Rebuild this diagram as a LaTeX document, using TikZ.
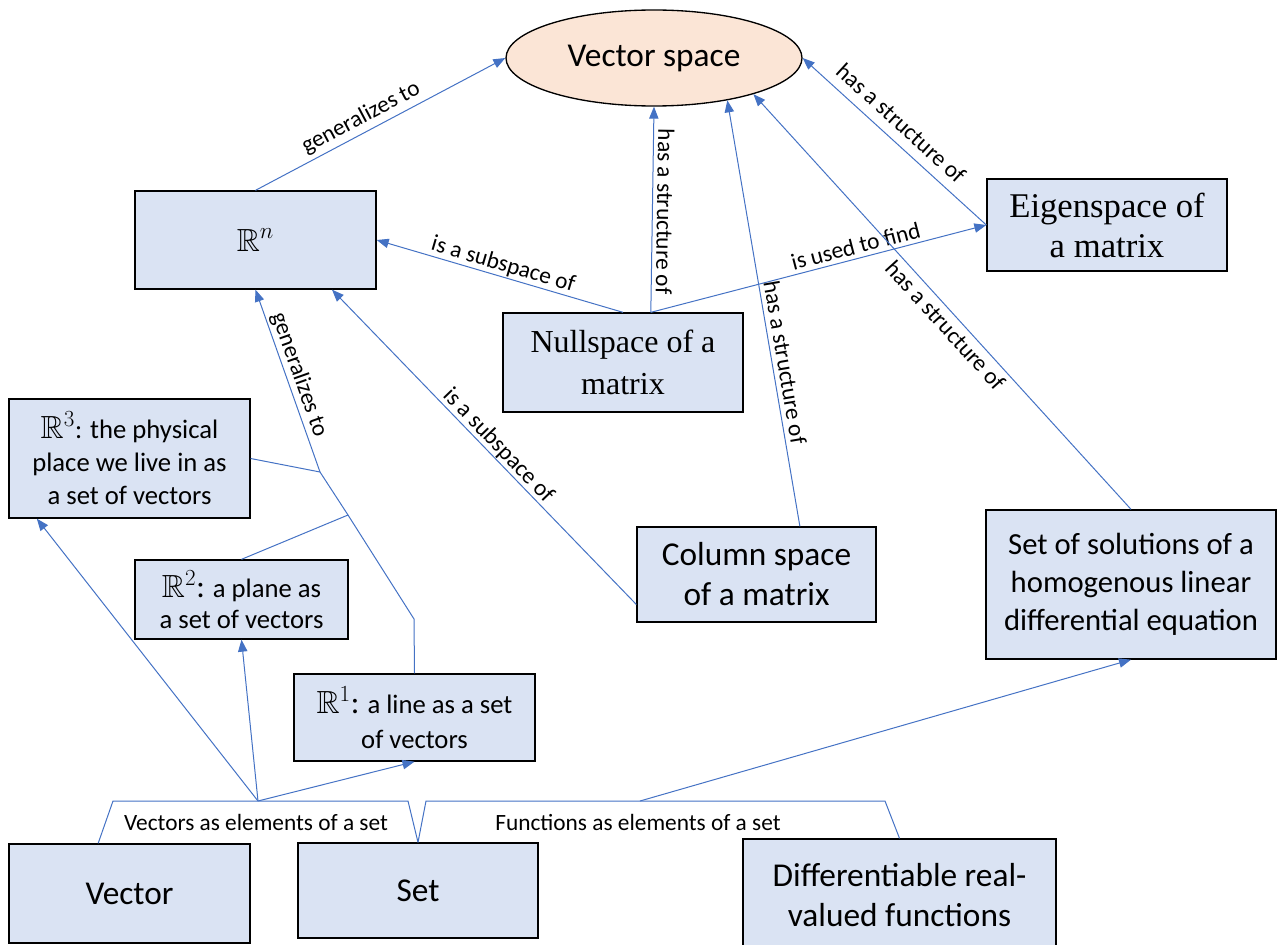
\documentclass[tikz,border=0pt]{standalone}
\usepackage{amssymb}
\usepackage{fontspec}
\setmainfont{Carlito}
\newfontfamily\cambria{Liberation Serif}
\usetikzlibrary{arrows.meta,shapes.geometric}

\definecolor{boxblue}{HTML}{DAE3F3}
\definecolor{peach}{HTML}{FBE5D6}
\definecolor{linkblue}{HTML}{4472C4}

\begin{document}
\begin{tikzpicture}[x=0.75pt,y=-0.75pt,
    concept/.style={draw, line width=1pt, fill=boxblue, inner sep=0pt, align=center},
    link/.style={linkblue, line width=0.75pt},
    arrow/.style={link, -{Triangle[length=9pt,width=7pt]}},
    rarrow/.style={link, {Triangle[length=9pt,width=7pt]}-},
    rel/.style={font=\fontsize{17.5}{21}\selectfont, text=black},
    big/.style={font=\fontsize{25}{30}\selectfont}]

    \useasboundingbox (0,0) rectangle (1277,945);
    \clip (0,0) rectangle (1277,945);

    \node [ellipse, draw, line width=1pt, fill=peach, minimum width=222pt, minimum height=72pt, big] (vs) at (654,58) {Vector space};
    \node [concept, minimum width=180.75pt, minimum height=73.5pt] (rn) at (255.5,240) {\fontsize{24}{28}\selectfont$\mathbb{R}^n$};
    \node [concept, minimum width=180pt, minimum height=69pt, font=\cambria\fontsize{26}{30}\selectfont] (eig) at (1107,225) {Eigenspace of\\a matrix};
    \node [concept, minimum width=180pt, minimum height=74.25pt, font=\cambria\fontsize{24}{31}\selectfont] (null) at (623,362.5) {Nullspace of a\\matrix};
    \node [concept, minimum width=180.75pt, minimum height=89.25pt, font=\fontsize{20}{24.75}\selectfont] (r3) at (129.5,458.5) {{\fontsize{24}{24.75}\selectfont$\mathbb{R}^3$}: the physical\\place we live in as\\a set of vectors};
    \node [concept, minimum width=179.25pt, minimum height=71.25pt, big] (col) at (756.5,574.5) {Column space\\of a matrix};
    \node [concept, minimum width=217.5pt, minimum height=111.75pt, font=\fontsize{23}{28.5}\selectfont] (sol) at (1131,584.5) {Set of solutions of a\\homogenous linear\\differential equation};
    \node [concept, minimum width=159.75pt, minimum height=59.25pt, font=\fontsize{20}{23.25}\selectfont] (r2) at (241.5,599.5) {{\fontsize{24}{23.25}\selectfont$\mathbb{R}^2$:} a plane as\\a set of vectors};
    \node [concept, minimum width=180.75pt, minimum height=65.25pt, font=\fontsize{20}{26}\selectfont] (r1) at (414.5,717.5) {{\fontsize{24}{26}\selectfont$\mathbb{R}^1$:} a line as a set\\of vectors};
    \node [concept, minimum width=180.75pt, minimum height=74.25pt, big] (vec) at (129.5,893.5) {Vector};
    \node [concept, minimum width=180pt, minimum height=71.25pt, big] (set) at (418,890.5) {Set};
    \node [concept, minimum width=234.75pt, minimum height=84pt, big] (diff) at (899.5,895) {Differentiable real-\\valued functions};

    \coordinate (j1) at (414,619);
    \coordinate (j2) at (348,515);
    \coordinate (j3) at (320,472);
    \coordinate (va) at (258,801);
    \coordinate (vb1) at (113,801);
    \coordinate (vb2) at (408,801);
    \coordinate (fa) at (640,801);
    \coordinate (fb1) at (426,801);
    \coordinate (fb2) at (885,801);

    \draw [arrow] (rn.north) -- node [rel, sloped, above, pos=0.45, inner sep=3pt] {generalizes to} (vs.west);
    \draw [arrow] (null.north) -- node [rel, sloped, above, pos=0.5, inner sep=1pt] {is a subspace of} (rn.east);
    \draw [rarrow] (vs.south) -- node [rel, sloped, above, allow upside down, pos=0.51, inner sep=3pt] {has a structure of} (null.61);
    \draw [arrow] (null.61) -- node [rel, sloped, above, pos=0.62, inner sep=3pt] {is used to find} (eig.west);
    \draw [rarrow] (vs.-30) -- node [rel, sloped, above, pos=0.62] {has a structure of} (col.48);
    \draw [rarrow] (vs.-20) -- node [rel, sloped, below, pos=0.535, inner sep=3.5pt] {has a structure of} (sol.north);
    \draw [rarrow] (vs.east) -- node [rel, sloped, above, pos=0.47, inner sep=7pt] {has a structure of} (eig.west);
    \draw [rarrow] (rn.-33) -- node [rel, sloped, above, pos=0.52, inner sep=0.5pt] {is a subspace of} (col.194);

    % R^1, R^2 and R^3 all generalize to R^n
    \draw [link] (r1.north) -- (j1) -- (j2) -- (j3);
    \draw [link] (r2.north) -- (j2);
    \draw [link] (r3.east) -- (j3);
    \draw [rarrow] (rn.south) -- node [rel, sloped, above, pos=0.49, inner sep=1.5pt] {generalizes to} (j3);

    % elements of a set
    \draw [link] (vec.122) -- (vb1) -- (vb2) -- (set.north);
    \draw [link] (set.north) -- (fb1) -- (fb2) -- (diff.north);
    \node [rel] (vlbl) at (256,822) {Vectors as elements of a set};
    \node [rel] (flbl) at (638,822) {Functions as elements of a set};
    \draw [arrow] (va) -- (r3.213);
    \draw [arrow] (va) -- (r2.south);
    \draw [arrow] (va) -- (r1.south);
    \draw [arrow] (fa) -- (sol.south);
\end{tikzpicture}
\end{document}
